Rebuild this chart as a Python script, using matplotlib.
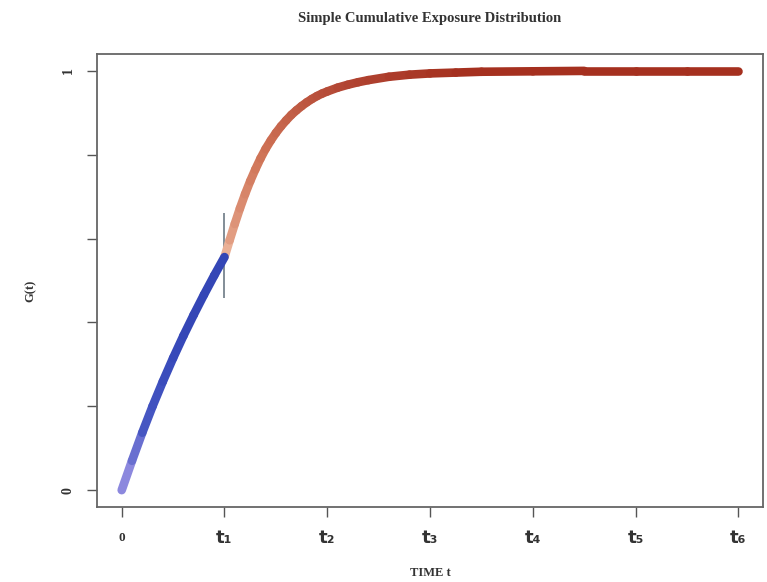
import numpy as np
import matplotlib
matplotlib.use("Agg")
import matplotlib.pyplot as plt
from matplotlib.collections import LineCollection
from matplotlib.colors import LinearSegmentedColormap

# ---------------- data ----------------
t_blue = [0.0, 0.1, 0.2, 0.3, 0.4, 0.5, 0.6, 0.7, 0.8, 0.9, 1.0]
g_blue = [0.0, 0.07, 0.137, 0.2, 0.259, 0.315, 0.368, 0.418, 0.466, 0.512, 0.556]

t_red = [1.0, 1.05, 1.1, 1.15, 1.2, 1.25, 1.3, 1.35, 1.4, 1.45, 1.5,
         1.55, 1.6, 1.65, 1.7, 1.75, 1.8, 1.85, 1.9, 1.95, 2.0,
         2.1, 2.2, 2.3, 2.4, 2.6, 2.8, 3.0, 3.25, 3.5, 4.0, 4.5, 5.0, 5.5, 6.0]
g_red = [0.556, 0.596, 0.635, 0.672, 0.706, 0.737, 0.765, 0.791, 0.814, 0.834, 0.852,
         0.868, 0.882, 0.895, 0.906, 0.916, 0.925, 0.933, 0.940, 0.946, 0.951,
         0.960, 0.967, 0.973, 0.978, 0.986, 0.991, 0.994, 0.996, 0.998, 0.999, 1.0, 1.0, 1.0, 1.0]

t_change = 1.0
change_bar = [0.458, 0.661]

x_ticks = [0, 1, 2, 3, 4, 5, 6]
x_labels = ["0", "t\u2081", "t\u2082", "t\u2083", "t\u2084", "t\u2085", "t\u2086"]
y_ticks = [0, 0.2, 0.4, 0.6, 0.8, 1.0]
y_labels = ["0", "", "", "", "", "1"]

# ---------------- plot ----------------
fig = plt.figure(figsize=(7.67, 5.82), dpi=100)
ax = fig.add_axes([0.1265, 0.129, 0.8685, 0.778])

blue_cmap = LinearSegmentedColormap.from_list("b", ["#8c88de", "#4656c2", "#3a4cbc", "#3446b6"])
red_cmap = LinearSegmentedColormap.from_list("r", ["#eab096", "#cf7356", "#b24634", "#a5301f"])


def band(ax, t, g, cmap, pos, lw):
    pts = np.column_stack([t, g]).reshape(-1, 1, 2)
    segs = np.concatenate([pts[:-1], pts[1:]], axis=1)
    lc = LineCollection(segs, colors=cmap(pos), linewidths=lw,
                        capstyle="round", joinstyle="round", zorder=3)
    ax.add_collection(lc)


tb = np.asarray(t_blue)
tr = np.asarray(t_red)
ax.vlines(t_change, change_bar[0], change_bar[1], color="#6d7a85", lw=1.2, zorder=2)
band(ax, t_red, g_red, red_cmap, np.clip((tr[:-1] - tr[0]) / 2.2, 0, 1) ** 0.6, 6.2)
band(ax, t_blue, g_blue, blue_cmap, np.clip(tb[:-1] / 0.6, 0, 1), 6.2)

ax.set_xlim(-0.24, 6.24)
ax.set_ylim(-0.04, 1.04)

ax.set_xticks(x_ticks)
ax.set_yticks(y_ticks)
ax.set_xticklabels(x_labels)
ax.set_yticklabels(y_labels, rotation=90, va="center", family="Liberation Serif",
                   fontsize=10, fontweight="bold")

for i, lab in enumerate(ax.get_xticklabels()):
    if i == 0:
        lab.set_family("Liberation Serif")
        lab.set_fontsize(9.5)
        lab.set_fontweight("bold")
    else:
        lab.set_family("DejaVu Sans")
        lab.set_fontsize(13)
        lab.set_fontweight("bold")

ax.tick_params(axis="x", length=7, width=1.0, color="#555555", pad=9, labelcolor="#333333")
ax.tick_params(axis="y", length=7, width=1.0, color="#555555", pad=9, labelcolor="#333333")
ax.get_xticklabels()[0].set_y(-0.006)

for s in ax.spines.values():
    s.set_color("#666666")
    s.set_linewidth(1.3)

fig.text(0.5606, 0.968, "Simple Cumulative Exposure Distribution", ha="center", va="center",
         family="Liberation Serif", fontsize=10.5, fontweight="bold", color="#333333")
fig.text(0.5606, 0.015, "TIME t", ha="center", va="center",
         family="Liberation Serif", fontsize=9, fontweight="bold", color="#333333")
fig.text(0.04, 0.50, "G(t)", ha="center", va="center", rotation=90,
         family="Liberation Serif", fontsize=9, fontweight="bold", color="#333333")

fig.savefig("out.png", dpi=100)
